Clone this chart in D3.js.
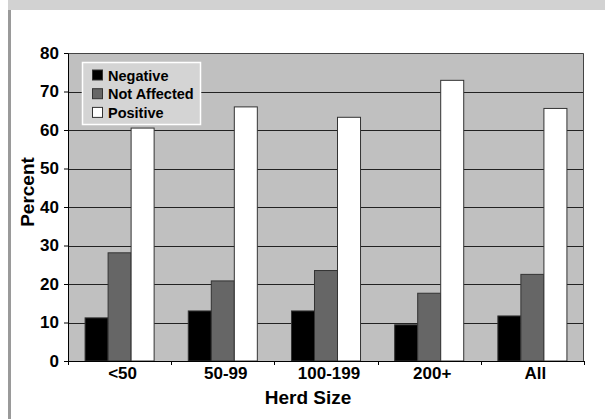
<!DOCTYPE html>
<html>
<head>
<meta charset="utf-8">
<script src="https://cdn.jsdelivr.net/npm/d3@7"></script>
<style>
  html, body { margin: 0; padding: 0; background: #fff; overflow: hidden; }
  svg { display: block; }
  text { font-family: "Liberation Sans", Arial, sans-serif; font-weight: bold; fill: #000; }
</style>
</head>
<body>
<div id="chart"></div>
<script>
// Data
const herdSizes = ['<50', '50-99', '100-199', '200+', 'All'];
const seriesNames = ['Negative', 'Not Affected', 'Positive'];
const negative = [11.2, 13.0, 13.0, 9.4, 11.7];
const notAffected = [28.1, 20.8, 23.5, 17.6, 22.5];
const positive = [60.5, 66.0, 63.3, 72.9, 65.6];
const yTicks = [0, 10, 20, 30, 40, 50, 60, 70, 80];

const colors = ['#000000', '#666666', '#ffffff'];
const series = [negative, notAffected, positive];

const W = 605, H = 419;
const margin = { top: 53, right: 21, bottom: 58, left: 68 };
const width = W - margin.left - margin.right;
const height = H - margin.top - margin.bottom;

const svg = d3.select('#chart')
    .append('svg')
    .attr('width', W)
    .attr('height', H);

// Frame pieces around the chart
svg.append('rect').attr('x', 8).attr('y', 0).attr('width', W - 8).attr('height', 10).attr('fill', '#d2d2d2');
svg.append('rect').attr('x', 8).attr('y', 10).attr('width', 3).attr('height', H - 10).attr('fill', '#9a9a9a');

const g = svg.append('g')
    .attr('transform', `translate(${margin.left},${margin.top})`);

// Scales
const x = d3.scaleBand()
    .domain(herdSizes)
    .range([0, width])
    .padding(0);

const barW = x.bandwidth() * 0.223;
const inner = d3.scaleBand()
    .domain(seriesNames)
    .range([(x.bandwidth() - 3 * barW) / 2, (x.bandwidth() + 3 * barW) / 2])
    .padding(0);

const y = d3.scaleLinear()
    .domain([0, 80])
    .range([height, 0]);

// Plot background
g.append('rect')
    .attr('width', width)
    .attr('height', height)
    .attr('fill', '#c0c0c0');

// Gridlines
g.selectAll('.grid')
    .data(yTicks.filter(d => d > 0 && d < 80))
    .enter()
    .append('line')
    .attr('x1', 0)
    .attr('x2', width)
    .attr('y1', d => Math.round(y(d)) + 0.5)
    .attr('y2', d => Math.round(y(d)) + 0.5)
    .attr('stroke', '#222')
    .attr('stroke-width', 1);

// Plot border (top and right)
g.append('path')
    .attr('d', `M0.5,0.5H${width - 0.5}V${height}`)
    .attr('fill', 'none')
    .attr('stroke', '#444')
    .attr('stroke-width', 1);

// Bars
series.forEach((vals, si) => {
    g.selectAll('.bar' + si)
        .data(vals)
        .enter()
        .append('rect')
        .attr('x', (d, i) => x(herdSizes[i]) + inner(seriesNames[si]))
        .attr('y', d => y(d))
        .attr('width', inner.bandwidth())
        .attr('height', d => height - y(d))
        .attr('fill', colors[si])
        .attr('stroke', '#333')
        .attr('stroke-width', 1);
});

// Y axis
const yAxis = g.append('g')
    .call(d3.axisLeft(y).tickValues(yTicks).tickSize(4).tickPadding(5));
yAxis.select('.domain').attr('stroke', '#000');
yAxis.selectAll('.tick line').attr('stroke', '#000');
yAxis.selectAll('text').style('font-size', '17px');

// X axis
const xAxis = g.append('g')
    .attr('transform', `translate(0,${height})`);
xAxis.append('line')
    .attr('x1', 0).attr('x2', width)
    .attr('y1', 0.5).attr('y2', 0.5)
    .attr('stroke', '#000');
xAxis.selectAll('.xtick')
    .data(d3.range(herdSizes.length + 1))
    .enter()
    .append('line')
    .attr('x1', i => Math.round(i * x.step()) + 0.5)
    .attr('x2', i => Math.round(i * x.step()) + 0.5)
    .attr('y1', 0)
    .attr('y2', 4)
    .attr('stroke', '#000');
xAxis.selectAll('.xlabel')
    .data(herdSizes)
    .enter()
    .append('text')
    .attr('x', d => x(d) + x.bandwidth() / 2 + 3)
    .attr('y', 18)
    .attr('text-anchor', 'middle')
    .style('font-size', '17px')
    .text(d => d);

// Axis titles
svg.append('text')
    .attr('x', 308)
    .attr('y', 404)
    .attr('text-anchor', 'middle')
    .style('font-size', '19px')
    .text('Herd Size');

svg.append('text')
    .attr('transform', 'translate(34,192) rotate(-90)')
    .attr('text-anchor', 'middle')
    .style('font-size', '19px')
    .text('Percent');

// Legend
const legend = svg.append('g').attr('transform', 'translate(82,62)');
legend.append('rect')
    .attr('x', 0.5).attr('y', 0.5)
    .attr('width', 118).attr('height', 62)
    .attr('fill', '#d4d4d4')
    .attr('stroke', '#fff')
    .attr('stroke-width', 1.5);
seriesNames.forEach((name, i) => {
    const row = legend.append('g').attr('transform', `translate(10,${13 + i * 18.7})`);
    row.append('rect')
        .attr('x', 0.5).attr('y', -5)
        .attr('width', 10).attr('height', 10)
        .attr('fill', colors[i])
        .attr('stroke', '#333');
    row.append('text')
        .attr('x', 16)
        .attr('y', 5.5)
        .style('font-size', '14.5px')
        .text(name);
});
</script>
</body>
</html>
